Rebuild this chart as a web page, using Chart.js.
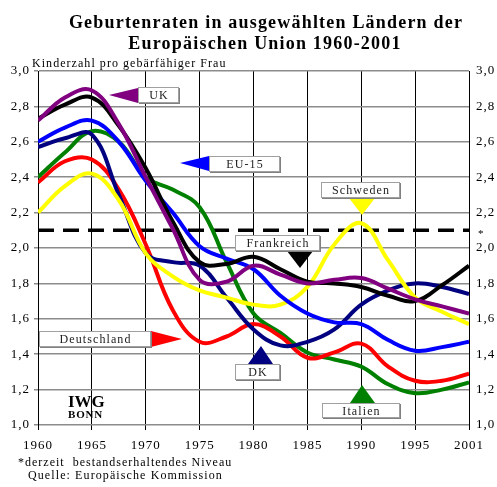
<!DOCTYPE html>
<html>
<head>
<meta charset="utf-8">
<script src="https://cdn.jsdelivr.net/npm/chart.js@4.4.1/dist/chart.umd.min.js"></script>
<style>
  body { margin: 0; background: #fff; }
  canvas { display: block; }
</style>
</head>
<body>
<canvas id="birthChart" width="497" height="487"></canvas>
<script>
// sample years along the curves
const years = [1960, 1962.5, 1965, 1967.5, 1970, 1972.5, 1975, 1977.5, 1980, 1982.5, 1985, 1987.5, 1990, 1992.5, 1995, 1998, 2001];
const yearLabels = ['1960', '1965', '1970', '1975', '1980', '1985', '1990', '1995', '2001'];

const uk      = [2.72, 2.85, 2.89, 2.70, 2.40, 2.11, 1.82, 1.81, 1.90, 1.85, 1.80, 1.82, 1.83, 1.77, 1.71, 1.67, 1.63];
const france  = [2.73, 2.81, 2.85, 2.69, 2.45, 2.15, 1.92, 1.91, 1.95, 1.88, 1.81, 1.80, 1.78, 1.73, 1.70, 1.79, 1.90];
const eu15    = [2.60, 2.68, 2.72, 2.60, 2.38, 2.20, 2.01, 1.94, 1.88, 1.73, 1.63, 1.58, 1.57, 1.48, 1.42, 1.44, 1.47];
const denmark = [2.57, 2.62, 2.64, 2.30, 1.97, 1.92, 1.90, 1.72, 1.54, 1.45, 1.47, 1.54, 1.68, 1.76, 1.80, 1.78, 1.74];
const italy   = [2.40, 2.54, 2.66, 2.60, 2.40, 2.33, 2.23, 1.92, 1.63, 1.52, 1.41, 1.37, 1.33, 1.23, 1.18, 1.20, 1.24];
const germany = [2.37, 2.49, 2.50, 2.33, 2.02, 1.65, 1.47, 1.50, 1.57, 1.50, 1.38, 1.41, 1.46, 1.33, 1.25, 1.25, 1.29];
const sweden  = [2.20, 2.35, 2.42, 2.27, 1.97, 1.84, 1.76, 1.72, 1.68, 1.68, 1.78, 2.02, 2.14, 1.93, 1.72, 1.64, 1.57];

const replacementLevel = 2.1;

// the last interval (1995-2001) is drawn as wide as the 5-year ones
function xPos(year) {
    return year <= 1995 ? year : 1995 + (year - 1995) * 5 / 6;
}

function toPoints(values) {
    return values.map((v, i) => ({ x: xPos(years[i]), y: v }));
}

function line(label, values, color) {
    return {
        label: label,
        data: toPoints(values),
        borderColor: color,
        borderWidth: 4,
        pointRadius: 0,
        fill: false,
        tension: 0.4
    };
}

const serif = '"Liberation Serif", "DejaVu Serif", serif';

const notes = [
    { text: 'UK', box: [138, 87, 41, 16], tri: [[109, 95], [138, 88], [138, 103]], color: '#800080' },
    { text: 'EU-15', box: [209, 156, 71, 16], tri: [[180, 163], [209, 156], [209, 171]], color: '#0000ff' },
    { text: 'Schweden', box: [321, 182, 79, 16], tri: [[362, 215], [349, 198], [375, 198]], color: '#ffff00' },
    { text: 'Frankreich', box: [235, 235, 85, 16], tri: [[300, 268], [287, 251], [313, 251]], color: '#000000' },
    { text: 'Deutschland', box: [39, 331, 112, 16], tri: [[182, 339], [151, 331], [151, 347]], color: '#ff0000' },
    { text: 'DK', box: [235, 364, 45, 16], tri: [[261, 346], [248, 364], [273, 364]], color: '#000080' },
    { text: 'Italien', box: [322, 403, 78, 15], tri: [[362, 385], [350, 403], [375, 403]], color: '#008000' }
];

const decorations = {
    id: 'decorations',
    beforeDraw(chart) {
        // the scanned original has widely spaced letters
        chart.ctx.letterSpacing = '1px';
    },
    afterDatasetsDraw(chart) {
        const ctx = chart.ctx;
        ctx.save();

        notes.forEach(n => {
            const [bx, by, bw, bh] = n.box;
            ctx.fillStyle = n.color;
            ctx.beginPath();
            ctx.moveTo(n.tri[0][0], n.tri[0][1]);
            ctx.lineTo(n.tri[1][0], n.tri[1][1]);
            ctx.lineTo(n.tri[2][0], n.tri[2][1]);
            ctx.closePath();
            ctx.fill();

            ctx.fillStyle = '#808080';
            ctx.fillRect(bx + 1, by + 1, bw, bh);
            ctx.fillStyle = '#ffffff';
            ctx.fillRect(bx, by, bw, bh);
            ctx.strokeStyle = '#a0a0a0';
            ctx.lineWidth = 1;
            ctx.strokeRect(bx + 0.5, by + 0.5, bw - 1, bh - 1);

            ctx.fillStyle = '#222';
            ctx.font = '12px ' + serif;
            ctx.letterSpacing = '1.1px';
            ctx.textAlign = 'center';
            ctx.textBaseline = 'middle';
            ctx.fillText(n.text, bx + bw / 2 + 0.5, by + bh / 2 + 1);
        });

        // title
        ctx.fillStyle = '#000';
        ctx.textAlign = 'center';
        ctx.textBaseline = 'alphabetic';
        ctx.font = 'bold 18px ' + serif;
        ctx.letterSpacing = '1.2px';
        ctx.fillText('Geburtenraten in ausgewählten Ländern der', 266, 28);
        ctx.fillText('Europäischen Union 1960-2001', 265, 49);

        ctx.textAlign = 'left';
        ctx.font = '12px ' + serif;
        ctx.letterSpacing = '1.05px';
        ctx.fillText('Kinderzahl pro gebärfähiger Frau', 32, 67);

        ctx.letterSpacing = '1px';
        ctx.fillText('*derzeit  bestandserhaltendes Niveau', 18, 466);
        ctx.letterSpacing = '1.1px';
        ctx.fillText('Quelle: Europäische Kommission', 28, 479);

        ctx.font = '11px ' + serif;
        ctx.fillText('*', 478, 237);

        ctx.font = 'bold 17px ' + serif;
        ctx.letterSpacing = '0px';
        ctx.fillText('IWG', 68, 407);
        ctx.font = 'bold 11px ' + serif;
        ctx.letterSpacing = '0.8px';
        ctx.fillText('BONN', 68, 418);

        ctx.restore();
    }
};

new Chart(document.getElementById('birthChart').getContext('2d'), {
    type: 'line',
    data: {
        datasets: [
            line('UK', uk, '#800080'),
            line('Frankreich', france, '#000000'),
            line('EU-15', eu15, '#0000ff'),
            line('Schweden', sweden, '#ffff00'),
            line('DK', denmark, '#000080'),
            line('Deutschland', germany, '#ff0000'),
            line('Italien', italy, '#008000'),
            {
                label: 'Bestandserhaltendes Niveau',
                data: [{ x: xPos(1960), y: replacementLevel }, { x: xPos(2001), y: replacementLevel }],
                borderColor: '#000000',
                borderWidth: 3.5,
                borderDash: [16, 9],
                pointRadius: 0,
                fill: false
            }
        ]
    },
    options: {
        responsive: false,
        animation: false,
        layout: { padding: { top: 71, left: 0, right: 0, bottom: 0 } },
        plugins: {
            legend: { display: false },
            tooltip: { enabled: false }
        },
        scales: {
            x: {
                type: 'linear',
                min: 1960,
                max: 2000,
                afterFit: s => { s.height = 62; },
                ticks: {
                    stepSize: 5,
                    maxRotation: 0,
                    autoSkip: false,
                    padding: 8,
                    color: '#000',
                    font: { family: serif, size: 13 },
                    callback: (v, i) => yearLabels[i]
                },
                grid: { color: '#000000', lineWidth: 1, tickLength: 5 },
                border: { display: false }
            },
            y: {
                position: 'left',
                min: 1,
                max: 3,
                afterFit: s => { s.width = 38; },
                ticks: {
                    stepSize: 0.2,
                    padding: 4,
                    color: '#000',
                    font: { family: serif, size: 13 },
                    callback: v => v.toFixed(1).replace('.', ',')
                },
                grid: { color: '#8c8c8c', lineWidth: 1.5, tickLength: 4 },
                border: { color: '#000', width: 1 }
            },
            y2: {
                position: 'right',
                min: 1,
                max: 3,
                afterFit: s => { s.width = 28; },
                ticks: {
                    stepSize: 0.2,
                    padding: 7,
                    color: '#000',
                    font: { family: serif, size: 13 },
                    callback: v => v.toFixed(1).replace('.', ',')
                },
                grid: { display: false, drawTicks: false },
                border: { display: false }
            }
        }
    },
    plugins: [decorations]
});
</script>
</body>
</html>
